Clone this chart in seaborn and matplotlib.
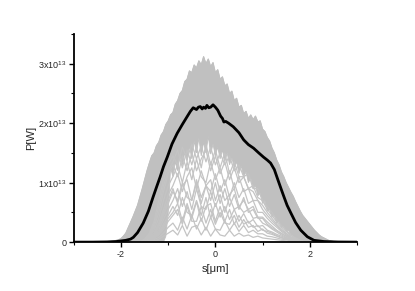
import numpy as np
import pandas as pd
import seaborn as sns
import matplotlib
matplotlib.use("Agg")
import matplotlib.pyplot as plt
from matplotlib.ticker import MultipleLocator, FuncFormatter

# power in units of 1e13 W, position in um
# upper edge of the grey bundle of shots, sampled every 0.05 um from -2.5 to 2.6
p_upper = [0, 0, 0, 0, 0.005, 0.01, 0.015, 0.02, 0.03, 0.04,
           0.06, 0.1, 0.15, 0.24, 0.33, 0.42, 0.52, 0.62, 0.76, 0.9,
           1.05, 1.2, 1.33, 1.45, 1.5, 1.62, 1.68, 1.8, 1.86, 1.98,
           2.04, 2.14, 2.18, 2.32, 2.38, 2.5, 2.55, 2.7, 2.74, 2.88,
           2.85, 2.98, 2.93, 3.05, 2.98, 3.12, 3.0, 3.08, 2.95, 3.02,
           2.85, 2.9, 2.74, 2.78, 2.63, 2.66, 2.5, 2.54, 2.38, 2.42,
           2.27, 2.3, 2.16, 2.2, 2.08, 2.14, 2.06, 2.12, 2.02, 2.04,
           1.9, 1.86, 1.76, 1.7, 1.58, 1.5, 1.38, 1.3, 1.18, 1.1,
           1.0, 0.92, 0.84, 0.77, 0.68, 0.6, 0.52, 0.45, 0.4, 0.35,
           0.3, 0.25, 0.2, 0.16, 0.12, 0.09, 0.07, 0.05, 0.03, 0.02,
           0.01, 0.005, 0]
s_upper = np.linspace(-2.5, 2.6, len(p_upper))

# lower edge of the dense grey part, every 0.05 um from -1.1 to 1.8
p_floor = [0, 0.1, 0.5, 1.25, 1.1, 1.35, 1.2, 1.45, 1.3, 1.5, 1.35,
           1.62, 1.4, 1.7, 1.5, 1.75, 1.45, 1.68, 1.5, 1.78, 1.48, 1.65, 1.45,
           1.6, 1.4, 1.55, 1.35, 1.5, 1.3, 1.42, 1.25, 1.35, 1.15,
           1.28, 1.1, 1.18, 1.0, 1.08, 0.9, 0.95, 0.78, 0.82, 0.65,
           0.7, 0.52, 0.55, 0.42, 0.45, 0.32, 0.35, 0.25, 0.26, 0.18,
           0.2, 0.12, 0.1, 0.06, 0.03, 0]
s_floor = np.linspace(-1.1, 1.8, len(p_floor))

# low shots, sampled every 0.1 um from -1.6 to 1.9
s_low = np.round(np.arange(-1.6, 1.95, 0.1), 2)
low_shots = [
    [0, 0.05, 0.15, 0.35, 0.7, 1.05, 1.3, 1.45, 1.3, 1.6, 1.4, 1.65, 1.4, 1.62, 1.35, 1.6, 1.3, 1.5, 1.3, 1.45, 1.2, 1.3, 1.1, 1.15, 0.9, 0.9, 0.7, 0.6, 0.5, 0.38, 0.28, 0.2, 0.12, 0.07, 0.03, 0],
    [0, 0.03, 0.1, 0.25, 0.5, 0.85, 1.15, 1.3, 1.1, 1.45, 1.2, 1.5, 1.2, 1.4, 1.55, 1.2, 1.45, 1.15, 1.35, 1.05, 1.25, 1.0, 1.1, 0.9, 0.85, 0.7, 0.62, 0.5, 0.4, 0.3, 0.22, 0.15, 0.09, 0.05, 0.02, 0],
    [0, 0.02, 0.08, 0.2, 0.4, 0.7, 0.95, 1.1, 1.3, 1.0, 1.35, 1.05, 1.4, 1.1, 1.0, 1.35, 1.05, 1.25, 0.95, 1.2, 0.9, 1.1, 0.85, 0.9, 0.7, 0.7, 0.55, 0.45, 0.36, 0.28, 0.2, 0.14, 0.08, 0.04, 0.02, 0],
    [0, 0.02, 0.06, 0.15, 0.32, 0.55, 0.8, 0.95, 1.15, 0.85, 1.1, 1.25, 0.9, 1.2, 0.95, 0.85, 1.15, 0.85, 1.05, 0.75, 1.0, 0.75, 0.9, 0.65, 0.7, 0.5, 0.5, 0.4, 0.32, 0.25, 0.18, 0.12, 0.07, 0.04, 0.01, 0],
    [0, 0.01, 0.05, 0.12, 0.25, 0.45, 0.65, 0.85, 0.7, 1.0, 0.75, 0.7, 1.05, 0.75, 0.95, 1.05, 0.7, 0.95, 0.7, 0.8, 0.9, 0.6, 0.7, 0.55, 0.6, 0.42, 0.42, 0.34, 0.27, 0.2, 0.15, 0.1, 0.06, 0.03, 0.01, 0],
    [0, 0.01, 0.04, 0.1, 0.2, 0.38, 0.55, 0.7, 0.9, 0.6, 0.85, 0.55, 0.9, 0.6, 0.55, 0.85, 0.6, 0.8, 0.5, 0.75, 0.55, 0.6, 0.5, 0.55, 0.4, 0.42, 0.32, 0.28, 0.22, 0.17, 0.12, 0.08, 0.05, 0.03, 0.01, 0],
    [0, 0.01, 0.03, 0.08, 0.16, 0.3, 0.45, 0.6, 0.45, 0.75, 0.5, 0.45, 0.7, 0.45, 0.75, 0.4, 0.65, 0.42, 0.6, 0.38, 0.55, 0.35, 0.48, 0.32, 0.38, 0.26, 0.28, 0.2, 0.17, 0.13, 0.1, 0.07, 0.04, 0.02, 0.01, 0],
    [0, 0.01, 0.02, 0.06, 0.12, 0.22, 0.35, 0.45, 0.55, 0.3, 0.6, 0.35, 0.35, 0.6, 0.32, 0.55, 0.3, 0.5, 0.32, 0.3, 0.45, 0.25, 0.38, 0.25, 0.28, 0.18, 0.22, 0.15, 0.13, 0.1, 0.07, 0.05, 0.03, 0.02, 0.01, 0],
    [0, 0.0, 0.02, 0.04, 0.08, 0.15, 0.25, 0.32, 0.2, 0.42, 0.22, 0.45, 0.22, 0.4, 0.2, 0.42, 0.22, 0.2, 0.36, 0.2, 0.32, 0.18, 0.28, 0.16, 0.2, 0.14, 0.14, 0.1, 0.09, 0.07, 0.05, 0.04, 0.02, 0.01, 0.0, 0],
    [0, 0, 0.01, 0.02, 0.05, 0.1, 0.15, 0.2, 0.12, 0.28, 0.1, 0.25, 0.28, 0.12, 0.25, 0.1, 0.22, 0.12, 0.1, 0.2, 0.1, 0.15, 0.1, 0.12, 0.08, 0.1, 0.07, 0.06, 0.05, 0.04, 0.03, 0.02, 0.01, 0.01, 0, 0],
    [0, 0.04, 0.12, 0.3, 0.6, 0.95, 1.2, 1.35, 1.55, 1.25, 1.55, 1.3, 1.6, 1.25, 1.65, 1.3, 1.55, 1.25, 1.5, 1.15, 1.35, 1.1, 1.1, 0.9, 0.95, 0.75, 0.7, 0.55, 0.45, 0.34, 0.25, 0.18, 0.11, 0.06, 0.03, 0],
    [0, 0.01, 0.05, 0.12, 0.28, 0.5, 0.7, 0.9, 0.65, 0.95, 1.05, 0.7, 1.0, 0.65, 0.95, 0.7, 1.0, 0.65, 0.9, 0.6, 0.8, 0.55, 0.75, 0.5, 0.55, 0.4, 0.4, 0.3, 0.24, 0.19, 0.14, 0.1, 0.06, 0.03, 0.01, 0],
    [0, 0.01, 0.03, 0.07, 0.14, 0.26, 0.4, 0.5, 0.65, 0.35, 0.65, 0.4, 0.68, 0.35, 0.6, 0.65, 0.35, 0.6, 0.35, 0.55, 0.3, 0.45, 0.3, 0.35, 0.25, 0.28, 0.2, 0.18, 0.15, 0.11, 0.08, 0.06, 0.04, 0.02, 0.01, 0],
]

# average over shots (black)
s_mean = [-3.0, -2.6, -2.3, -2.1, -1.9, -1.8, -1.74, -1.65, -1.53, -1.42,
          -1.32, -1.25, -1.17, -1.1, -1.02, -0.92, -0.81, -0.7, -0.6, -0.53,
          -0.47, -0.4, -0.36, -0.32, -0.28, -0.25, -0.21, -0.18, -0.14, -0.1,
          -0.05, 0.0, 0.05, 0.11, 0.15, 0.18, 0.22, 0.28, 0.38, 0.5,
          0.6, 0.7, 0.81, 0.92, 1.02, 1.1, 1.17, 1.25, 1.32, 1.4,
          1.45, 1.52, 1.6, 1.7, 1.81, 1.95, 2.09, 2.3, 2.6, 3.0]
p_mean = [0, 0, 0.003, 0.01, 0.03, 0.05, 0.08, 0.16, 0.32, 0.52,
          0.76, 0.92, 1.1, 1.27, 1.43, 1.65, 1.83, 1.98, 2.11, 2.2,
          2.26, 2.23, 2.27, 2.28, 2.24, 2.27, 2.25, 2.3, 2.26, 2.27,
          2.31, 2.27, 2.22, 2.12, 2.08, 2.02, 2.03, 2.0, 1.94, 1.84,
          1.72, 1.64, 1.58, 1.5, 1.43, 1.38, 1.33, 1.22, 1.06, 0.88,
          0.77, 0.62, 0.49, 0.33, 0.2, 0.09, 0.03, 0.01, 0.002, 0]

sns.set_style("ticks")
plt.rcParams['font.family'] = ['Liberation Sans', 'DejaVu Sans']
plt.rcParams['mathtext.fontset'] = 'custom'
plt.rcParams['mathtext.rm'] = 'Liberation Sans'
plt.rcParams['mathtext.it'] = 'Liberation Sans'

grey = '#c0c0c0'
fig = plt.figure(figsize=(4.15, 2.91), dpi=100)
ax = fig.add_axes([0.178, 0.168, 0.682, 0.715])

ax.fill(np.concatenate([s_upper, s_floor[::-1]]),
        np.concatenate([p_upper, p_floor[::-1]]),
        color=grey, lw=0.6, zorder=1)
sns.lineplot(x=s_upper, y=p_upper, color=grey, lw=0.8, ax=ax, zorder=1)

df_low = pd.DataFrame({
    's': np.tile(s_low, len(low_shots)),
    'P': np.concatenate(low_shots),
    'shot': np.repeat(np.arange(len(low_shots)), len(s_low)),
})
sns.lineplot(data=df_low, x='s', y='P', units='shot', estimator=None,
             color='#c4c4c4', lw=0.9, ax=ax, zorder=2)

sns.lineplot(x=s_mean, y=p_mean, color='black', lw=2.0, ax=ax, zorder=3)

ax.set_xlim(-3, 3)
ax.set_ylim(0, 3.5)
sns.despine(ax=ax)
for sp in ['left', 'bottom']:
    ax.spines[sp].set_linewidth(1.3)
    ax.spines[sp].set_color('black')

ax.xaxis.set_major_locator(MultipleLocator(2))
ax.xaxis.set_minor_locator(MultipleLocator(1))
ax.yaxis.set_major_locator(MultipleLocator(1))
ax.yaxis.set_minor_locator(MultipleLocator(0.5))
ax.xaxis.set_major_formatter(FuncFormatter(lambda v, p: f"{v:.0f}"))
ax.yaxis.set_major_formatter(FuncFormatter(
    lambda v, p: "0" if v == 0 else f"{v:.0f}x10$^{{13}}$"))
ax.tick_params(which='major', length=3.5, width=1.0, labelsize=6.5, pad=2, color='black')
ax.tick_params(which='minor', length=2, width=0.8, color='black')

ax.set_xlabel("s[μm]", fontsize=8, labelpad=4)
ax.set_ylabel("P[W]", fontsize=8, labelpad=1)

fig.savefig("out.png", dpi=100)
